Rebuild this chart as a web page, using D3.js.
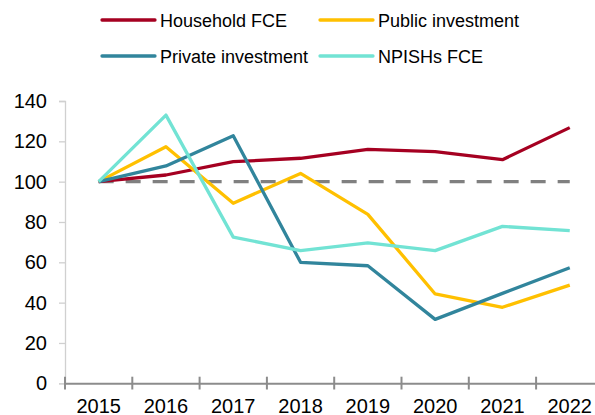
<!DOCTYPE html>
<html><head><meta charset="utf-8">
<script src="https://cdn.jsdelivr.net/npm/d3@7"></script>
<style>body{margin:0;background:#fff}svg{display:block;font-family:"Liberation Sans",Arial,sans-serif}</style>
</head><body><svg id="c" width="595" height="415"></svg>
<script>
const years = ["2015","2016","2017","2018","2019","2020","2021","2022"];
const household = [100, 103.3, 109.9, 111.6, 116.0, 114.9, 110.9, 126.8];
const publicInv = [100, 117.3, 89.3, 104.1, 83.8, 44.3, 37.7, 48.7];
const privateInv = [100, 107.8, 122.8, 60.0, 58.3, 31.7, 44.6, 57.3];
const npish = [100, 133.0, 72.5, 65.8, 69.6, 65.8, 77.8, 75.7];
const baseline = [100, 100, 100, 100, 100, 100, 100, 100];
const yTicks = [0, 20, 40, 60, 80, 100, 120, 140];
const seriesNames = ["Household FCE", "Public investment", "Private investment", "NPISHs FCE"];
const colors = ["#A50021", "#FFC000", "#31859C", "#72E3D4"];
const seriesData = [household, publicInv, privateInv, npish];

const svg = d3.select("#c");
const x = d3.scaleBand().domain(years).range([65, 603.4]);
const y = d3.scaleLinear().domain([0, 140]).range([383.3, 101]);

// y axis
const ya = svg.append("g").attr("transform","translate(65,0)")
  .call(d3.axisLeft(y).tickValues(yTicks).tickSize(6).tickPadding(12));
ya.select(".domain").attr("stroke","#d0d0d0").attr("stroke-width",1.3);
ya.selectAll(".tick line").attr("stroke","#d0d0d0").attr("stroke-width",1.3);
ya.selectAll("text").attr("font-size","20px").attr("fill","#000").attr("font-family","Liberation Sans, Arial, sans-serif");

// x axis
const xa = svg.append("g").attr("transform","translate(0,383.3)")
  .call(d3.axisBottom(x).tickSizeOuter(0).tickSize(0).tickPadding(14));
xa.select(".domain").attr("stroke","#8c8c8c").attr("stroke-width",2);
xa.selectAll("text").attr("font-size","20px").attr("fill","#000").attr("dy",null).attr("y",30).attr("font-family","Liberation Sans, Arial, sans-serif");
// category boundary ticks
const bounds = years.map(d => x(d));
svg.append("g").selectAll("line").data(bounds).join("line")
  .attr("x1", d=>d).attr("x2", d=>d).attr("y1", 376.7).attr("y2", 389.5)
  .attr("stroke","#8c8c8c").attr("stroke-width",2);

const cx = d => x(d) + x.bandwidth()/2;
const line = d3.line().x((d,i)=>cx(years[i])).y(d=>y(d));

// baseline dashed
svg.append("path").datum(baseline).attr("d", line).attr("fill","none")
  .attr("stroke","#808080").attr("stroke-width",3.2).attr("stroke-dasharray","15,12");

// series
seriesData.forEach((s,i) => {
  svg.append("path").datum(s).attr("d", line).attr("fill","none")
    .attr("stroke", colors[i]).attr("stroke-width",3.3).attr("stroke-linejoin","round");
});

// legend
const legPos = [[102,20],[320,20],[102,56],[320,56]];
seriesNames.forEach((n,i) => {
  const [lx,ly] = legPos[i];
  svg.append("line").attr("x1",lx).attr("x2",lx+53).attr("y1",ly).attr("y2",ly)
    .attr("stroke",colors[i]).attr("stroke-width",3.3).attr("stroke-linecap","round");
  svg.append("text").attr("x",lx+58).attr("y",ly+6.5).attr("font-size","18px").attr("fill","#000").text(n);
});
</script></body></html>
